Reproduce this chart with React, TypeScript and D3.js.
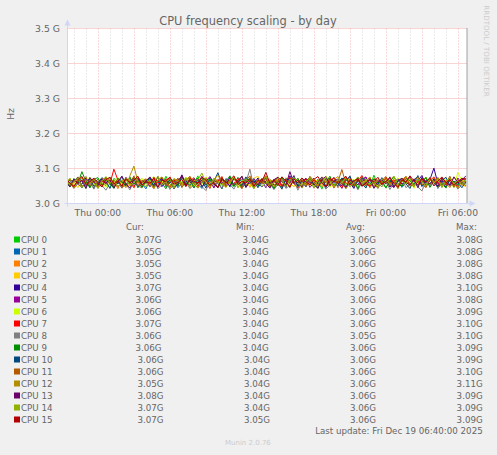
import React from "react";
import * as d3 from "d3";

const W = 497;
const H = 455;

const names = ["CPU 0","CPU 1","CPU 2","CPU 3","CPU 4","CPU 5","CPU 6","CPU 7","CPU 8","CPU 9","CPU 10","CPU 11","CPU 12","CPU 13","CPU 14","CPU 15"];
const colors = ["#00cc00","#0066b3","#ff8000","#ffcc00","#330099","#990099","#ccff00","#ff0000","#808080","#008f00","#00487d","#b35a00","#b38f00","#6b006b","#8fb300","#b30000"];

// MHz samples, every 20 minutes from Wed 21:20 to Fri 06:40
const cpu0 = [3062,3048,3071,3055,3066,3043,3074,3058,3051,3069,3057,3046,3072,3061,3049,3067,3054,3076,3045,3063,3059,3070,3047,3064,3052,3078,3056,3044,3068,3060,3050,3073,3057,3079,3046,3062,3071,3053,3065,3042,3069,3058,3047,3075,3061,3052,3066,3043,3072,3057,3064,3049,3070,3055,3045,3067,3060,3074,3051,3063,3048,3071,3056,3066,3041,3073,3059,3050,3068,3054,3076,3062,3046,3065,3057,3070,3048,3081,3053,3061,3044,3067,3058,3072,3050,3064,3055,3069,3047,3075,3060,3052,3073,3045,3063,3056,3071,3049,3066,3058,3068];
const cpu1 = [3055,3068,3047,3061,3073,3050,3064,3044,3070,3058,3052,3075,3059,3046,3066,3054,3071,3049,3063,3057,3042,3069,3060,3053,3074,3048,3062,3067,3045,3058,3072,3051,3064,3056,3043,3070,3059,3047,3066,3061,3053,3077,3050,3063,3068,3046,3060,3071,3055,3049,3065,3058,3041,3067,3062,3052,3073,3057,3048,3064,3069,3054,3061,3045,3072,3059,3050,3066,3056,3063,3047,3070,3058,3053,3075,3049,3062,3060,3044,3068,3056,3064,3051,3071,3046,3059,3067,3054,3080,3048,3062,3057,3069,3043,3065,3052,3074,3058,3050,3061,3051];
const cpu2 = [3066,3051,3059,3072,3045,3063,3056,3070,3048,3061,3074,3053,3065,3042,3068,3057,3050,3071,3060,3046,3064,3055,3073,3049,3062,3067,3044,3058,3070,3052,3061,3076,3047,3063,3056,3069,3051,3059,3045,3072,3057,3064,3050,3067,3053,3074,3046,3062,3058,3070,3079,3048,3060,3065,3043,3068,3055,3061,3072,3049,3057,3066,3052,3070,3047,3063,3059,3075,3045,3061,3054,3068,3050,3064,3058,3071,3044,3066,3056,3062,3073,3048,3060,3069,3053,3057,3077,3046,3064,3051,3067,3055,3062,3049,3071,3058,3045,3076,3060,3053,3049];
const cpu3 = [3050,3067,3061,3045,3072,3056,3063,3048,3069,3059,3053,3074,3046,3065,3058,3070,3051,3062,3066,3044,3071,3057,3049,3068,3060,3054,3075,3047,3063,3058,3066,3043,3070,3055,3061,3073,3050,3064,3057,3068,3046,3062,3071,3053,3059,3067,3048,3072,3078,3056,3063,3045,3069,3058,3051,3074,3060,3047,3066,3055,3070,3052,3064,3049,3073,3057,3061,3046,3068,3059,3054,3076,3050,3063,3067,3045,3071,3058,3052,3065,3060,3048,3073,3056,3062,3069,3044,3067,3057,3064,3051,3070,3059,3047,3074,3055,3063,3050,3068,3057,3048];
const cpu4 = [3058,3071,3049,3064,3055,3073,3046,3062,3068,3052,3075,3057,3044,3066,3061,3050,3072,3056,3063,3047,3069,3060,3053,3077,3048,3065,3058,3070,3051,3082,3055,3063,3045,3068,3059,3074,3050,3066,3057,3043,3071,3062,3054,3067,3076,3049,3061,3056,3073,3047,3064,3070,3052,3058,3066,3045,3079,3060,3053,3068,3048,3063,3072,3055,3069,3046,3061,3074,3057,3051,3067,3059,3043,3070,3062,3075,3050,3058,3066,3054,3071,3047,3063,3069,3056,3060,3073,3049,3065,3080,3052,3068,3101,3057,3064,3046,3070,3061,3055,3072,3069];
const cpu5 = [3064,3050,3070,3057,3045,3068,3061,3073,3048,3066,3056,3071,3052,3063,3044,3075,3059,3067,3051,3062,3069,3047,3065,3058,3074,3053,3046,3068,3060,3055,3072,3049,3063,3057,3078,3052,3066,3044,3070,3061,3058,3073,3050,3064,3047,3069,3056,3071,3054,3062,3045,3067,3060,3075,3051,3065,3058,3080,3049,3063,3071,3046,3059,3068,3054,3072,3048,3066,3062,3043,3070,3057,3064,3053,3069,3076,3050,3061,3047,3067,3059,3055,3045,3072,3063,3058,3077,3051,3065,3057,3074,3049,3068,3060,3052,3066,3062,3047,3073,3056,3061];
const cpu6 = [3057,3072,3051,3066,3044,3061,3075,3053,3068,3059,3046,3070,3062,3074,3049,3064,3069,3045,3058,3073,3055,3067,3077,3050,3063,3060,3043,3071,3066,3052,3075,3058,3048,3065,3054,3076,3061,3050,3069,3057,3047,3063,3078,3045,3066,3059,3072,3053,3068,3049,3061,3070,3044,3058,3074,3055,3067,3062,3046,3073,3060,3051,3069,3064,3053,3077,3046,3065,3058,3071,3048,3062,3070,3044,3057,3066,3075,3052,3063,3047,3069,3059,3050,3073,3064,3055,3068,3043,3071,3060,3076,3049,3063,3067,3052,3074,3058,3046,3089,3065,3060];
const cpu7 = [3069,3053,3062,3076,3047,3065,3058,3072,3044,3061,3074,3056,3098,3067,3049,3070,3063,3045,3073,3059,3066,3050,3075,3061,3054,3071,3046,3067,3058,3079,3052,3063,3074,3048,3068,3060,3043,3071,3064,3077,3049,3066,3057,3073,3051,3062,3070,3045,3068,3059,3078,3053,3065,3072,3047,3066,3075,3058,3044,3063,3071,3052,3067,3060,3076,3048,3064,3073,3056,3045,3069,3074,3051,3062,3080,3057,3049,3071,3065,3054,3075,3058,3068,3046,3063,3077,3052,3070,3059,3072,3048,3065,3076,3057,3069,3053,3073,3062,3045,3067,3071];
const cpu8 = [3050,3062,3043,3056,3067,3046,3059,3041,3064,3052,3038,3058,3047,3066,3044,3055,3039,3063,3050,3045,3060,3048,3069,3042,3054,3065,3040,3057,3068,3046,3061,3043,3053,3070,3049,3037,3064,3051,3058,3044,3066,3055,3041,3062,3048,3060,3098,3045,3057,3067,3047,3059,3040,3054,3071,3043,3052,3065,3038,3061,3049,3068,3044,3056,3063,3041,3053,3066,3046,3072,3042,3058,3064,3039,3061,3051,3069,3043,3057,3048,3065,3040,3060,3052,3073,3045,3055,3067,3047,3036,3062,3050,3070,3044,3056,3064,3048,3059,3041,3054,3058];
const cpu9 = [3066,3048,3071,3057,3091,3063,3045,3069,3074,3052,3067,3059,3043,3072,3061,3050,3076,3055,3068,3046,3063,3075,3051,3066,3058,3042,3070,3064,3049,3077,3056,3068,3045,3062,3073,3053,3067,3060,3047,3071,3063,3079,3050,3066,3044,3059,3074,3062,3048,3070,3057,3065,3043,3061,3076,3052,3068,3058,3072,3046,3064,3075,3055,3044,3069,3060,3078,3051,3063,3071,3047,3058,3067,3042,3074,3064,3053,3070,3059,3066,3045,3062,3077,3056,3049,3072,3065,3054,3068,3060,3075,3046,3063,3071,3057,3044,3069,3062,3052,3073,3060];
const cpu10 = [3053,3068,3060,3075,3045,3063,3071,3049,3058,3074,3064,3043,3067,3056,3077,3051,3062,3072,3046,3066,3059,3073,3048,3063,3070,3054,3068,3042,3057,3076,3065,3050,3071,3060,3067,3044,3074,3063,3088,3055,3069,3047,3072,3061,3052,3076,3058,3066,3045,3063,3073,3050,3067,3059,3041,3071,3064,3078,3048,3068,3057,3072,3053,3062,3075,3046,3069,3060,3051,3073,3063,3079,3049,3066,3058,3044,3071,3062,3054,3074,3059,3067,3047,3063,3072,3056,3043,3068,3077,3050,3064,3071,3058,3048,3066,3075,3052,3063,3060,3045,3062];
const cpu11 = [3067,3058,3044,3072,3063,3077,3050,3066,3059,3047,3074,3062,3053,3071,3045,3068,3057,3079,3049,3064,3070,3060,3043,3067,3075,3052,3063,3058,3073,3046,3066,3078,3056,3044,3063,3071,3051,3068,3060,3076,3048,3062,3072,3058,3042,3066,3079,3053,3064,3057,3071,3047,3067,3061,3075,3063,3045,3072,3058,3068,3050,3078,3064,3049,3069,3060,3073,3044,3062,3097,3056,3067,3048,3075,3063,3052,3071,3059,3043,3066,3077,3058,3063,3047,3072,3068,3051,3064,3076,3057,3045,3069,3062,3073,3052,3058,3078,3046,3067,3061,3064];
const cpu12 = [3058,3071,3046,3064,3077,3052,3068,3060,3043,3072,3063,3075,3050,3067,3059,3045,3079,3107,3062,3051,3070,3057,3042,3066,3076,3060,3048,3071,3064,3053,3068,3074,3058,3044,3063,3072,3050,3067,3081,3059,3046,3065,3073,3056,3078,3051,3069,3043,3062,3071,3057,3067,3047,3076,3063,3053,3070,3060,3066,3044,3061,3075,3058,3049,3072,3064,3051,3068,3077,3057,3043,3066,3059,3073,3052,3063,3076,3047,3069,3060,3071,3054,3065,3042,3067,3078,3058,3048,3072,3063,3050,3068,3061,3075,3046,3064,3073,3057,3044,3067,3050];
const cpu13 = [3063,3047,3070,3058,3066,3043,3074,3061,3052,3071,3059,3067,3045,3063,3078,3056,3044,3068,3072,3053,3064,3076,3058,3047,3069,3061,3073,3042,3065,3079,3051,3067,3060,3072,3048,3063,3077,3056,3045,3068,3062,3050,3073,3059,3078,3046,3066,3061,3053,3071,3057,3044,3068,3075,3063,3052,3091,3058,3067,3048,3072,3060,3055,3043,3069,3077,3051,3064,3070,3057,3046,3066,3062,3074,3050,3059,3071,3044,3063,3068,3058,3076,3047,3065,3072,3060,3053,3069,3045,3074,3063,3056,3070,3049,3073,3061,3052,3076,3059,3067,3079];
const cpu14 = [3068,3052,3061,3074,3046,3066,3058,3072,3044,3063,3077,3057,3069,3049,3062,3073,3051,3060,3075,3064,3047,3067,3058,3078,3053,3062,3071,3043,3066,3059,3074,3050,3063,3068,3087,3060,3046,3072,3064,3052,3069,3057,3076,3045,3063,3070,3058,3043,3067,3061,3078,3053,3059,3072,3065,3048,3066,3075,3060,3051,3063,3071,3044,3068,3057,3077,3064,3050,3069,3059,3073,3047,3062,3076,3058,3066,3052,3063,3045,3071,3060,3068,3078,3054,3064,3057,3073,3049,3067,3062,3051,3075,3059,3068,3046,3063,3072,3057,3066,3053,3071];
const cpu15 = [3070,3058,3049,3066,3077,3054,3063,3072,3060,3047,3068,3075,3056,3064,3050,3071,3059,3067,3078,3053,3062,3058,3073,3046,3066,3063,3076,3055,3060,3069,3048,3072,3064,3057,3075,3067,3052,3061,3046,3073,3059,3068,3079,3054,3063,3058,3071,3049,3066,3062,3089,3057,3068,3051,3076,3064,3047,3070,3059,3073,3062,3053,3069,3077,3058,3048,3072,3063,3060,3067,3078,3052,3064,3071,3049,3058,3068,3062,3075,3055,3063,3073,3058,3046,3067,3061,3079,3065,3053,3069,3060,3074,3050,3064,3076,3059,3068,3052,3063,3071,3070];
const seriesValues = [cpu0,cpu1,cpu2,cpu3,cpu4,cpu5,cpu6,cpu7,cpu8,cpu9,cpu10,cpu11,cpu12,cpu13,cpu14,cpu15];

const curVals = ["3.07G","3.05G","3.05G","3.05G","3.07G","3.06G","3.06G","3.07G","3.06G","3.06G","3.06G","3.06G","3.05G","3.08G","3.07G","3.07G"];
const minVals = ["3.04G","3.04G","3.04G","3.04G","3.04G","3.04G","3.04G","3.04G","3.04G","3.04G","3.04G","3.04G","3.04G","3.04G","3.04G","3.05G"];
const avgVals = ["3.06G","3.06G","3.06G","3.06G","3.06G","3.06G","3.06G","3.06G","3.05G","3.06G","3.06G","3.06G","3.06G","3.06G","3.06G","3.06G"];
const maxVals = ["3.08G","3.08G","3.08G","3.08G","3.10G","3.08G","3.09G","3.10G","3.10G","3.09G","3.09G","3.10G","3.11G","3.09G","3.09G","3.09G"];

const yTicks = [3.0e9, 3.1e9, 3.2e9, 3.3e9, 3.4e9, 3.5e9];
const yTickLabels = ["3.0 G", "3.1 G", "3.2 G", "3.3 G", "3.4 G", "3.5 G"];
const xTickTimes = [Date.UTC(2025,11,18,0), Date.UTC(2025,11,18,6), Date.UTC(2025,11,18,12), Date.UTC(2025,11,18,18), Date.UTC(2025,11,19,0), Date.UTC(2025,11,19,6)];
const xTickLabels = ["Thu 00:00", "Thu 06:00", "Thu 12:00", "Thu 18:00", "Fri 00:00", "Fri 06:00"];

const FONT = "DejaVu Sans, sans-serif";
const TXT = "#666666";

const endT = Date.UTC(2025, 11, 19, 6, 48);
const startT = endT - 2000 * 60000;
const dataStart = Date.UTC(2025, 11, 17, 21, 20);
const STEP = 20 * 60000;

export default function App() {
  const L = 67.5, R = 467.5, T = 28.5, B = 203.5;
  const x = d3.scaleUtc().domain([startT, endT]).range([L, R]);
  const y = d3.scaleLinear().domain([3.0e9, 3.5e9]).range([B, T]);
  const hours = d3.utcHour.range(new Date(startT), new Date(endT));
  const line = d3.line<number>()
    .x((_, i) => x(dataStart + i * STEP))
    .y((v) => y(v * 1e6));

  const rowY = (i: number) => 242.5 + i * 12;

  return (
    <div style={{ position: "absolute", left: 0, top: 0 }}>
      <svg width={W} height={H} style={{ display: "block" }} fontFamily={FONT}>
        <defs>
          <clipPath id="plotclip">
            <rect x={L - 0.5} y={T - 0.5} width={R - L} height={B - T} />
          </clipPath>
        </defs>
        <rect x={0} y={0} width={W} height={H} fill="#f0f0f0" />
        <rect x={L - 0.5} y={T - 0.5} width={R - L} height={B - T + 1} fill="#ffffff" />

        {hours.filter((h) => h.getUTCHours() % 3 !== 0).map((h) => {
          const xx = Math.round(x(h)) + 0.5;
          return <line key={"m" + h.getTime()} x1={xx} x2={xx} y1={T} y2={B} stroke="#d6d6d6" strokeDasharray="1,2" />;
        })}
        {hours.filter((h) => h.getUTCHours() % 3 === 0).map((h) => {
          const xx = Math.round(x(h)) + 0.5;
          return <line key={"M" + h.getTime()} x1={xx} x2={xx} y1={T} y2={B} stroke="#f4b4b4" strokeDasharray="1,2" />;
        })}
        {yTicks.map((t) => (
          <line key={"h" + t} x1={L} x2={R} y1={y(t)} y2={y(t)} stroke="#f2a8a8" strokeDasharray="1,1" />
        ))}

        <g clipPath="url(#plotclip)">
          {seriesValues.map((vals, i) => (
            <path key={names[i]} d={line(vals) || ""} fill="none" stroke={colors[i]} strokeWidth={1} />
          ))}
        </g>

        <line x1={R - 0.5} x2={R - 0.5} y1={T - 0.5} y2={B} stroke="#a0a0a0" />

        <line x1={L} x2={L} y1={B + 3} y2={T - 4} stroke="#cfd6f8" />
        <path d={`M${L - 3},${T - 3} L${L + 3},${T - 3} L${L},${T - 9} Z`} fill="#cfd6f8" />
        <line x1={L - 3} x2={R + 3} y1={B} y2={B} stroke="#cfd6f8" />
        <path d={`M${R + 2},${B - 3} L${R + 2},${B + 3} L${R + 8},${B} Z`} fill="#cfd6f8" />

        {yTicks.map((t, i) => (
          <text key={"yl" + t} x={60} y={y(t) + 3.3} textAnchor="end" fontSize={9.3} fill={TXT}>{yTickLabels[i]}</text>
        ))}
        {xTickTimes.map((t, i) => (
          <text key={"xl" + t} x={x(t)} y={216} textAnchor="middle" fontSize={9.2} fill={TXT}>{xTickLabels[i]}</text>
        ))}

        <text x={248} y={25} textAnchor="middle" fontSize={11.4} fill={TXT}>CPU frequency scaling - by day</text>
        <text transform="translate(14,114) rotate(-90)" textAnchor="middle" fontSize={9.2} fill={TXT}>Hz</text>
        <text transform="translate(484,51) rotate(90)" textAnchor="middle" fontSize={7.1} fill="#cccccc">RRDTOOL / TOBI OETIKER</text>

        <text x={126} y={229.5} fontSize={8.7} fill={TXT}>Cur:</text>
        <text x={236} y={229.5} fontSize={8.7} fill={TXT}>Min:</text>
        <text x={346} y={229.5} fontSize={8.7} fill={TXT}>Avg:</text>
        <text x={456} y={229.5} fontSize={8.7} fill={TXT}>Max:</text>

        {names.map((n, i) => {
          const yy = rowY(i);
          const shift = i >= 10 ? 2 : 0;
          return (
            <g key={"lg" + n}>
              <rect x={14} y={yy - 6} width={6} height={6} fill={colors[i]} />
              <text x={21} y={yy} fontSize={8.7} fill={TXT}>{n}</text>
              <text x={161.5 + shift} y={yy} textAnchor="end" fontSize={8.7} fill={TXT}>{curVals[i]}</text>
              <text x={268.7 + shift * 0.7} y={yy} textAnchor="end" fontSize={8.7} fill={TXT}>{minVals[i]}</text>
              <text x={376} y={yy} textAnchor="end" fontSize={8.7} fill={TXT}>{avgVals[i]}</text>
              <text x={482.7} y={yy} textAnchor="end" fontSize={8.7} fill={TXT}>{maxVals[i]}</text>
            </g>
          );
        })}
        <text x={482.7} y={433.5} textAnchor="end" fontSize={8.7} fill={TXT}>Last update: Fri Dec 19 06:40:00 2025</text>
        <text x={225} y={445} fontSize={7} fill="#cccccc">Munin 2.0.76</text>
      </svg>
    </div>
  );
}
